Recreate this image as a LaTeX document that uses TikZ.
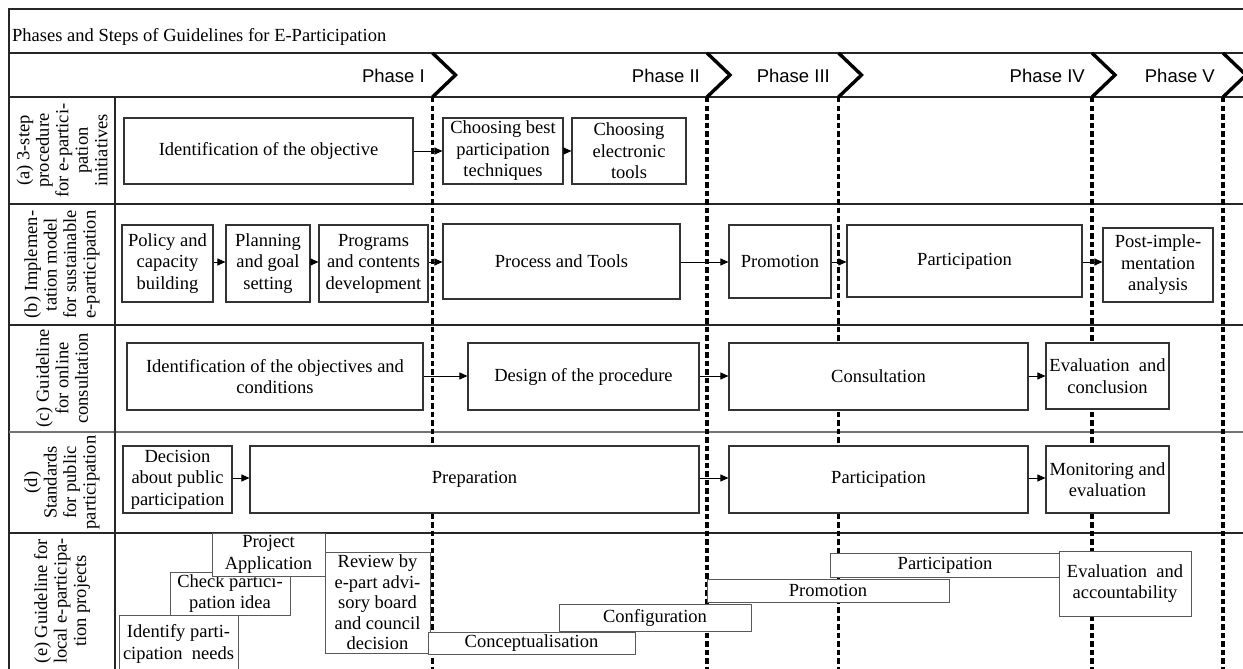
\documentclass[tikz,border=0pt]{standalone}
\usepackage{fontspec}
\setmainfont{Liberation Serif}
\newfontfamily\phasefont{Liberation Sans}
\usetikzlibrary{arrows.meta}

\begin{document}
\begin{tikzpicture}[x=1pt,y=-1pt,
  font=\fontsize{18.5}{21.5}\selectfont,
  frame/.style={line width=1.1pt, draw=black!85},
  lightframe/.style={line width=1.1pt, draw=black!55},
  box/.style={draw=black!80, line width=1.1pt, fill=white, align=center, inner sep=0pt},
  stairbox/.style={draw=black!65, line width=1pt, fill=white, align=center, inner sep=0pt},
  arr/.style={line width=0.9pt, -{Triangle[length=8pt,width=7pt]}},
  phaseline/.style={line width=3.6pt, dash pattern=on 5.5pt off 3pt},
  chevron/.style={line width=3.4pt, line join=miter},
  rowlabel/.style={rotate=90, align=center, font=\fontsize{18.5}{19.5}\selectfont},
  phaselabel/.style={anchor=base east, inner sep=0pt, font=\phasefont\fontsize{18.5}{21}\selectfont}]

\useasboundingbox (0,0) rectangle (1243,669);

% ---------- table frame ----------
\draw[frame] (9,675) -- (9,9) -- (1250,9);
\draw[frame] (9,53) -- (1250,53);
\draw[frame] (9,97) -- (1250,97);
\draw[frame] (9,204) -- (1250,204);
\draw[frame, line width=1.6pt] (9,325) -- (1250,325);
\draw[lightframe] (9,432) -- (1250,432);
\draw[frame, line width=1.6pt] (9,533) -- (1250,533);
\draw[frame] (115,97) -- (115,675);

% ---------- title ----------
\node[anchor=base west, inner sep=0pt] (title) at (12,42)
  {Phases and Steps of Guidelines for E-Participation};

% ---------- phases ----------
\node[phaselabel] (ph1) at (425,82) {Phase I};
\node[phaselabel] (ph2) at (700,82) {Phase II};
\node[phaselabel] (ph3) at (830,82) {Phase III};
\node[phaselabel] (ph4) at (1085,82) {Phase IV};
\node[phaselabel] (ph5) at (1215,82) {Phase V};

\foreach \px in {432.5,707,838.5,1092,1223}{
  \draw[chevron] (\px,53) -- (\px+23,75) -- (\px,97);
  \draw[phaseline] (\px,97) -- (\px,675);
}

% ---------- row labels ----------
\node[rowlabel] (la) at (62,150.5)
  {(a) 3-step\\procedure\\for e-partici-\\pation\\initiatives};
\node[rowlabel] (lb) at (62,264.5)
  {(b) Implemen-\\tation model\\for sustainable\\e-participation};
\node[rowlabel] (lc) at (62,378.5)
  {(c) Guideline\\for online\\consultation};
\node[rowlabel] (ld) at (62,482.5)
  {(d)\\Standards\\for public\\participation};
\node[rowlabel] (le) at (62,601)
  {(e) Guideline for\\local e-participa-\\tion projects};

% ---------- connector heights ----------
\coordinate (ya) at (0,151);
\coordinate (yb) at (0,262);
\coordinate (yc) at (0,376);
\coordinate (yd) at (0,478);

% ---------- row (a) ----------
\node[box, minimum width=289pt, minimum height=66pt] (a1) at (268.5,151)
  {Identification of the objective};
\node[box, minimum width=120pt, minimum height=66pt] (a2) at (503,151)
  {Choosing best\\participation\\techniques};
\node[box, minimum width=114pt, minimum height=66pt] (a3) at (629,151)
  {Choosing\\electronic\\tools};

% ---------- row (b) ----------
\node[box, minimum width=91pt, minimum height=77pt] (b1) at (167.5,263.5)
  {Policy and\\capacity\\building};
\node[box, minimum width=84pt, minimum height=77pt] (b2) at (268,263.5)
  {Planning\\and goal\\setting};
\node[box, minimum width=109pt, minimum height=77pt] (b3) at (373.5,263.5)
  {Programs\\and contents\\development};
\node[box, minimum width=237pt, minimum height=75pt] (b4) at (561.5,261.5)
  {Process and Tools};
\node[box, minimum width=102pt, minimum height=73pt] (b5) at (780,261.5)
  {Promotion};
\node[box, minimum width=235pt, minimum height=72pt] (b6) at (964.5,261)
  {Participation};
\node[box, minimum width=110pt, minimum height=74pt] (b7) at (1158,265)
  {Post-imple-\\mentation\\analysis};

% ---------- row (c) ----------
\node[box, minimum width=296pt, minimum height=67pt] (c1) at (275,376.5)
  {Identification of the objectives and\\conditions};
\node[box, minimum width=231pt, minimum height=67pt] (c2) at (583.5,376.5)
  {Design of the procedure};
\node[box, minimum width=299pt, minimum height=67pt] (c3) at (878.5,376.5)
  {Consultation};
\node[box, minimum width=123pt, minimum height=66pt] (c4) at (1107.5,376)
  {Evaluation\ \ and\\conclusion};

% ---------- row (d) ----------
\node[box, minimum width=109pt, minimum height=67pt] (d1) at (177.5,479.5)
  {Decision\\about public\\participation};
\node[box, minimum width=449pt, minimum height=67pt] (d2) at (474.5,479.5)
  {Preparation};
\node[box, minimum width=299pt, minimum height=67pt] (d3) at (878.5,479.5)
  {Participation};
\node[box, minimum width=123pt, minimum height=67pt] (d4) at (1107.5,479.5)
  {Monitoring and\\evaluation};

% ---------- arrows between steps ----------
\draw[arr] (a1.east |- ya) -- (a2.west |- ya);
\draw[arr] (a2.east |- ya) -- (a3.west |- ya);
\draw[arr] (b1.east |- yb) -- (b2.west |- yb);
\draw[arr] (b2.east |- yb) -- (b3.west |- yb);
\draw[arr] (b3.east |- yb) -- (b4.west |- yb);
\draw[arr] (b4.east |- yb) -- (b5.west |- yb);
\draw[arr] (b5.east |- yb) -- (b6.west |- yb);
\draw[arr] (b6.east |- yb) -- (b7.west |- yb);
\draw[arr] (c1.east |- yc) -- (c2.west |- yc);
\draw[arr] (c2.east |- yc) -- (c3.west |- yc);
\draw[arr] (c3.east |- yc) -- (c4.west |- yc);
\draw[arr] (d1.east |- yd) -- (d2.west |- yd);
\draw[arr] (d2.east |- yd) -- (d3.west |- yd);
\draw[arr] (d3.east |- yd) -- (d4.west |- yd);

% ---------- row (e): overlapping staircase ----------
\node[stairbox, minimum width=119pt, minimum height=58pt] (e1) at (178.5,644)
  {Identify parti-\\cipation\ \ needs};
\node[stairbox, minimum width=120pt, minimum height=43pt] (e2) at (230,593.5)
  {Check partici-\\pation idea};
\node[stairbox, minimum width=113pt, minimum height=43pt] (e3) at (268.5,554.5)
  {Project\\Application};
\node[stairbox, minimum width=105pt, minimum height=101pt,
      font=\fontsize{18.5}{20.5}\selectfont] (e4) at (377.5,602.5)
  {Review by\\e-part advi-\\sory board\\and council\\decision};
\node[stairbox, minimum width=207pt, minimum height=22pt] (e5) at (531.5,643)
  {Conceptualisation};
\node[stairbox, minimum width=192pt, minimum height=27pt] (e6) at (655,617.5)
  {Configuration};
\node[stairbox, minimum width=242pt, minimum height=23pt] (e7) at (828,590.5)
  {Promotion};
\node[stairbox, minimum width=230pt, minimum height=24pt] (e8) at (945,565)
  {Participation};
\node[stairbox, minimum width=132pt, minimum height=65pt] (e9) at (1125,583.5)
  {Evaluation\ \ and\\accountability};

\end{tikzpicture}
\end{document}
